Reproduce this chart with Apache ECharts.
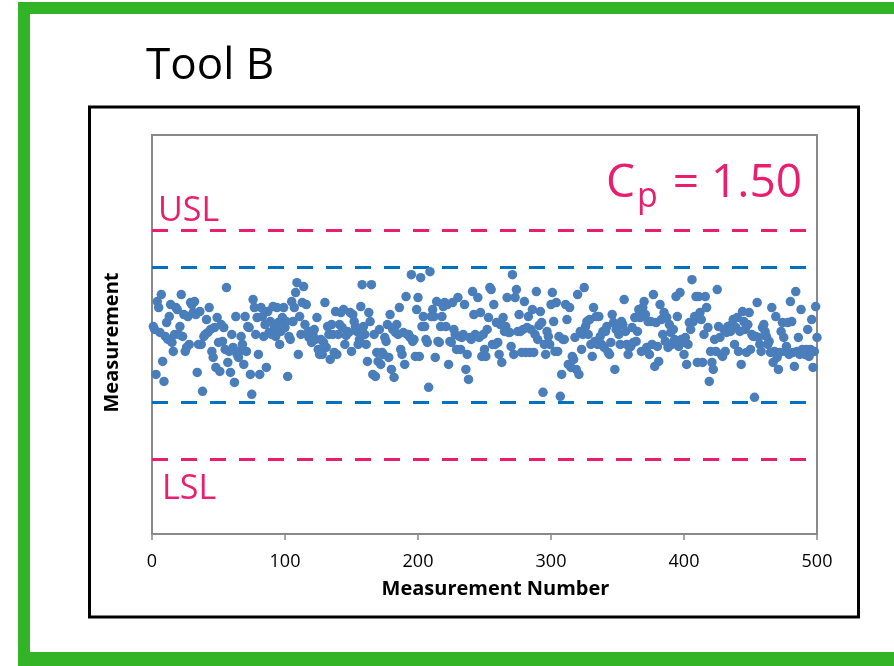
<!DOCTYPE html>
<html>
<head>
<meta charset="utf-8">
<script src="https://cdn.jsdelivr.net/npm/echarts@6/dist/echarts.min.js"></script>
<style>html,body{margin:0;padding:0;background:#fff}#chart{width:894px;height:666px}</style>
</head>
<body>
<div id="chart"></div>
<script>
// ---- Text ----
const chartTitle = 'Tool B';
const xAxisTitle = 'Measurement Number';
const yAxisTitle = 'Measurement';
const cpLabel = '1.50';

// ---- Axis ticks ----
const xTicks = [0, 100, 200, 300, 400, 500];

// ---- Limit lines ----
const limitNames  = ['USL', 'UCL', 'LCL', 'LSL'];
const limitValues = [11.05, 10.67, 9.32, 8.75];

const measurementsA = [
10.08,10.05,9.60,10.33,10.27,10.02,10.40,9.73,9.53,9.98,
10.12,9.95,10.18,10.30,9.92,9.83,10.00,10.27,10.25,10.00,
10.08,10.40,9.98,10.20,9.83,9.87,10.18,9.90,10.32,10.30,
10.22,10.33,10.20,9.62,9.90,10.23,9.90,9.43,9.98,10.00,
10.15,10.02,10.27,10.05,9.83,9.77,10.07,9.67,10.17,9.92,
9.63,10.10,9.93,10.07,9.85,10.47,9.72,9.83,9.62,10.00,
9.87,9.52,10.18,9.80,9.77,9.83,9.98,9.90,9.70,10.18,
9.83,10.08,10.07,9.60,9.40,10.35,10.27,10.00];
const measurementsB = [
10.17,9.80,9.60,10.27,10.18,9.98,10.10,9.67,10.23,10.02,
10.13,10.00,10.28,10.07,9.98,10.27,10.12,9.90,10.03,10.17,
10.27,10.07,10.13,9.58,9.98,9.95,10.33,10.13,10.27,10.42,
10.52,9.80,10.18,10.00,10.32,10.48,10.10,10.30,10.02,9.97,
10.03,9.92,10.00,10.05,9.95,10.17,9.85,9.80,9.95,9.80,9.92,10.32,9.87,10.08,
10.00,9.75,10.10,10.00,9.82,10.23,9.80,10.00,10.10,10.22,
10.07,10.25,9.90,9.99,10.03,10.02,10.22,9.83,10.20,10.13,10.08,10.03,9.90,9.95,
10.28,10.50,10.08,10.00,9.90,9.73,10.22,10.13];
const measurementsC = [
10.50,9.60,10.00,9.58,9.82,9.73,10.05,9.70,9.82,9.80,
9.97,9.93,10.10,9.77,10.20,9.65,10.05,9.57,10.02,10.10,
10.00,10.27,9.85,9.80,10.02,9.70,10.38,10.00,10.00,9.97,
10.60,9.93,9.95,9.78,10.25,10.37,9.78,10.57,10.08,10.18,
10.08,9.95,9.92,9.47,10.63,10.18,10.25,10.18,9.77,10.33,
9.93,9.92,10.08,10.18,10.28,10.32,10.08,10.30,9.70,9.93,
9.92,10.32,10.05,10.00,9.85,10.37,9.98,9.85,9.97,10.00,
10.30,9.65,9.80,9.55,9.97,9.95,10.43,10.20,10.00,9.98,
10.37,9.97,10.22,9.78,10.00];
const measurementsD = [
9.85,9.78,10.05,10.17,10.47,10.45,9.90,10.30,9.90,10.12,
9.92,9.80,10.10,9.72,10.17,10.03,10.08,10.37,10.02,10.02,
9.88,10.60,9.80,10.37,10.45,10.03,10.20,10.03,9.82,10.05,
10.33,9.82,10.07,10.18,9.82,10.05,10.25,9.82,10.00,10.43,
9.95,10.09,10.23,
10.12,9.42,9.90,9.80,10.03,9.98,9.90,10.30,10.42,10.13,
9.83,10.32,9.83,9.98,9.38,9.60,9.95,9.95,10.30,10.15,
9.70,10.27,9.67,9.78,9.75,9.97,9.65,10.40,9.60,10.03,
9.85,10.00,10.47,10.08,10.13,10.00,10.15,9.90,9.78,10.27];
const measurementsE = [
9.93,10.18,9.90,10.18,9.98,9.90,10.03,9.87,10.03,10.08,
9.82,9.80,9.92,10.20,10.12,9.65,10.05,10.08,10.00,9.90,
10.13,10.10,10.35,10.03,9.90,9.80,9.87,9.88,10.07,9.92,
10.17,9.93,10.03,10.25,10.17,9.83,10.27,10.33,10.20,9.87,
10.13,9.80,10.13,9.90,10.40,9.68,10.12,9.88,9.73,10.30,
10.15,10.00,10.22,9.93,10.17,9.87,10.10,10.02,9.90,10.05,
9.95,10.38,10.18,9.88,10.42,9.95,9.92,9.80,9.97,9.70,
9.90,10.12,10.05,10.55,10.13,10.18,10.38,9.72];
const measurementsF = [
10.38,10.22,10.15,9.72,10.00,10.38,10.27,10.07,9.53,9.83,
9.72,9.65,9.95,9.83,10.45,10.08,9.97,9.80,9.78,10.05,
9.83,10.02,10.08,10.05,10.03,10.10,10.15,9.90,10.07,10.17,
9.83,10.03,9.70,10.23,10.13,10.05,9.82,10.10,10.22,9.85,
10.00,9.98,9.37,9.98,10.32,9.97,9.90,9.83,10.07,10.10,
10.03,9.98,9.90,9.93,9.82,10.27,9.72,9.83,10.18,9.77,
9.65,9.82,10.03,10.12,9.97,9.83,9.88,10.12,9.80,10.33,
10.13,9.82,9.68,10.43,9.83,9.97,9.80,10.25,9.85,9.83,
9.80,9.85,10.05,9.78,9.85,10.15,9.67,9.83,10.28,9.97];

const measurements = [].concat(measurementsA, measurementsB, measurementsC,
                               measurementsD, measurementsE, measurementsF);

// ---- Styles ----
const FONT = 'Open Sans';
const PINK = '#EA1E6E';
const BLUE = '#0070C0';
const DOT = '#4A7EBB';
const GREEN = '#33B326';
const limitColors = [PINK, BLUE, BLUE, PINK];

const points = measurements.map((v, i) => [i + 1, v]);

const chart = echarts.init(document.getElementById('chart'), null, {renderer: 'canvas'});

chart.setOption({
  animation: false,
  backgroundColor: '#ffffff',
  grid: {
    left: 152, top: 135, width: 665, height: 399,
    show: true, borderColor: '#898989', borderWidth: 2, backgroundColor: 'transparent'
  },
  xAxis: {
    type: 'value', min: xTicks[0], max: xTicks[xTicks.length - 1], interval: xTicks[1] - xTicks[0],
    name: xAxisTitle, nameLocation: 'middle', nameGap: 45,
    nameTextStyle: {fontFamily: FONT, fontSize: 20, fontWeight: 'bold', color: '#000', padding: [0, 0, 0, 22]},
    axisLine: {show: true, lineStyle: {color: '#898989', width: 2}},
    axisTick: {show: true, inside: false, length: 6, lineStyle: {color: '#898989', width: 1.5}},
    axisLabel: {fontFamily: FONT, fontSize: 18, color: '#000', margin: 19},
    splitLine: {show: false}
  },
  yAxis: {
    type: 'value', min: 8, max: 12,
    name: yAxisTitle, nameLocation: 'middle', nameGap: 30, nameRotate: 90,
    nameTextStyle: {fontFamily: FONT, fontSize: 20, fontWeight: 'bold', color: '#000', padding: [0, 16, 0, 0]},
    axisLine: {show: true, lineStyle: {color: '#898989', width: 2}},
    axisTick: {show: false},
    axisLabel: {show: false},
    splitLine: {show: false}
  },
  series: [{
    type: 'scatter',
    data: points,
    symbol: 'circle',
    symbolSize: 9.5,
    itemStyle: {color: DOT, opacity: 1},
    z: 3,
    markLine: {
      silent: true,
      symbol: ['none', 'none'],
      animation: false,
      z: 2,
      data: limitNames.map((name, i) => ({
        name: name,
        yAxis: limitValues[i],
        lineStyle: {color: limitColors[i], type: [16, 13], width: 3},
        label: {
          show: name === 'USL' || name === 'LSL',
          formatter: name,
          position: name === 'USL' ? 'insideStartTop' : 'insideStartBottom',
          distance: name === 'USL' ? [6, 1] : [10, 13],
          fontFamily: FONT, fontSize: 34, color: PINK
        }
      }))
    }
  }],
  graphic: [
    // green frame
    {type: 'rect', shape: {x: 18, y: 2, width: 880, height: 12}, style: {fill: GREEN}, silent: true},
    {type: 'rect', shape: {x: 18, y: 2, width: 12, height: 670}, style: {fill: GREEN}, silent: true},
    {type: 'rect', shape: {x: 18, y: 652, width: 880, height: 20}, style: {fill: GREEN}, silent: true},
    // black chart box
    {type: 'rect', shape: {x: 89.5, y: 107, width: 769, height: 510},
     style: {fill: 'none', stroke: '#000', lineWidth: 3}, silent: true, z: -1},
    // title
    {type: 'text', x: 146, y: 66, silent: true,
     style: {text: chartTitle, fontFamily: FONT, fontSize: 44, fill: '#000', align: 'left', verticalAlign: 'middle'}},
    // Cp annotation
    {type: 'text', x: 606, y: 184, silent: true,
     style: {text: 'C', fontFamily: FONT, fontSize: 46, fill: PINK, align: 'left', verticalAlign: 'middle'}},
    {type: 'text', x: 637, y: 197, silent: true,
     style: {text: 'p', fontFamily: FONT, fontSize: 34, fill: PINK, align: 'left', verticalAlign: 'middle'}},
    {type: 'text', x: 802, y: 184, silent: true,
     style: {text: '= ' + cpLabel, fontFamily: FONT, fontSize: 46, fill: PINK, align: 'right', verticalAlign: 'middle'}}
  ]
});
</script>
</body>
</html>
